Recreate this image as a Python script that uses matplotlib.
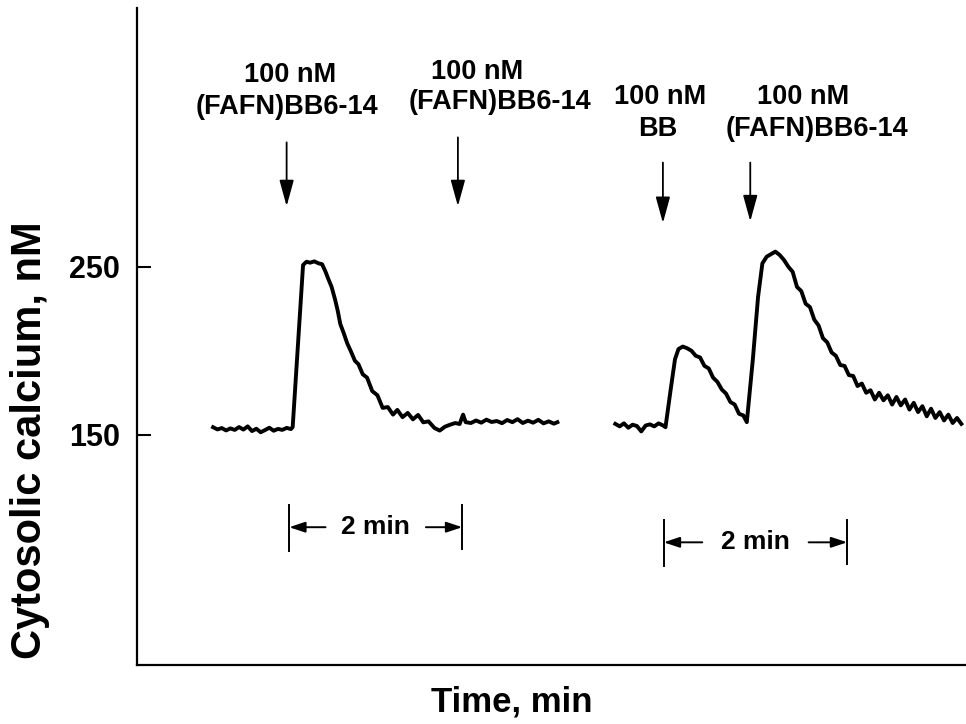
import matplotlib.pyplot as plt

plt.rcParams['font.family'] = ['Liberation Sans', 'DejaVu Sans']
plt.rcParams['font.weight'] = 'bold'

# trace 1: (FAFN)BB6-14 given twice (time in min, Ca in nM)
t1 = [0.88, 0.93, 0.98, 1.03, 1.08, 1.13, 1.18, 1.23, 1.28, 1.33, 1.38, 1.43,
      1.48, 1.53, 1.58, 1.63, 1.68, 1.73, 1.78, 1.80, 1.92, 1.96, 2.00, 2.05,
      2.10, 2.14, 2.18, 2.21, 2.25, 2.29, 2.32, 2.35, 2.39, 2.43, 2.47, 2.52,
      2.56, 2.61, 2.66, 2.72, 2.78, 2.84, 2.90, 2.96, 3.01, 3.07, 3.13, 3.19,
      3.25, 3.31, 3.37, 3.44, 3.50, 3.56, 3.62, 3.68, 3.73, 3.77, 3.80, 3.86,
      3.92, 3.98, 4.04, 4.10, 4.16, 4.22, 4.28, 4.34, 4.40, 4.46, 4.52, 4.58,
      4.64, 4.70, 4.76, 4.82, 4.86]
ca1 = [154.5, 153.2, 154.0, 152.6, 153.8, 152.9, 154.6, 153.1, 155.0, 152.2, 153.6, 151.5,
       152.8, 154.2, 152.4, 153.5, 152.9, 154.1, 153.4, 154.6, 251.0, 253.0, 252.4, 253.2,
       252.0, 251.5, 247.0, 243.0, 238.0, 230.5, 224.0, 216.0, 210.5, 204.5, 200.0, 194.0,
       192.0, 186.0, 184.0, 176.0, 173.5, 166.0, 166.5, 162.0, 164.8, 160.5, 163.0, 159.2,
       161.8, 157.4, 158.0, 154.0, 152.5, 154.8, 156.0, 157.0, 156.4, 162.0, 157.5, 157.0,
       158.5, 157.2, 159.0, 157.6, 158.2, 156.9, 158.8, 157.5, 159.3, 157.0, 158.4, 157.2,
       158.9, 156.8, 158.0, 156.6, 157.5]

# trace 2: BB then (FAFN)BB6-14
t2 = [5.53, 5.58, 5.63, 5.68, 5.73, 5.78, 5.83, 5.88, 5.93, 5.98, 6.03, 6.08,
      6.11, 6.17, 6.22, 6.26, 6.31, 6.36, 6.41, 6.46, 6.51, 6.56, 6.61, 6.66,
      6.71, 6.76, 6.81, 6.86, 6.91, 6.96, 7.01, 7.05, 7.12, 7.18, 7.23, 7.28,
      7.33, 7.38, 7.43, 7.48, 7.53, 7.58, 7.63, 7.68, 7.73, 7.78, 7.83, 7.88,
      7.93, 7.98, 8.03, 8.08, 8.13, 8.18, 8.23, 8.28, 8.33, 8.38, 8.43, 8.48,
      8.53, 8.58, 8.63, 8.68, 8.73, 8.78, 8.83, 8.88, 8.93, 8.98, 9.03, 9.08,
      9.13, 9.18, 9.23, 9.28, 9.33, 9.38, 9.43, 9.48, 9.53]
ca2 = [156.5, 155.0, 156.8, 154.2, 156.0, 155.2, 152.0, 155.5, 156.2, 155.0, 156.8, 155.6,
       154.5, 177.0, 195.0, 201.0, 202.5, 201.5, 200.0, 197.0, 196.0, 191.0, 189.5, 184.0,
       181.5, 177.0, 174.5, 169.5, 168.0, 162.5, 161.5, 157.5, 195.0, 232.0, 252.0, 256.0,
       257.5, 259.0, 257.0, 254.0, 250.0, 247.0, 238.0, 235.5, 228.0, 226.0, 218.5, 215.0,
       207.5, 205.0, 199.0, 197.0, 191.5, 191.0, 185.5, 185.0, 179.0, 180.5, 175.0, 176.5,
       171.0, 175.0, 170.5, 173.5, 168.0, 172.5, 167.5, 171.0, 165.0, 169.0, 163.5, 167.0,
       161.0, 165.5, 160.0, 163.5, 158.5, 162.0, 157.0, 160.0, 156.5]

# stimulus arrows
stim_t = [1.73, 3.71, 6.08, 7.09]
stim_top = [324, 327, 312, 312]
stim_tip = [286, 286, 276, 277]
label_line1 = ['100 nM', '100 nM', '100 nM', '100 nM']
label_line2 = ['(FAFN)BB6-14', '(FAFN)BB6-14', 'BB', '(FAFN)BB6-14']
line1_xy = [(1.77, 364), (3.93, 366), (6.05, 351), (7.70, 351)]
line2_xy = [(1.73, 345), (4.20, 348), (6.02, 332), (7.86, 332)]

# 2 min scale bars
bar_start = [1.76, 6.09]
bar_len = [2.0, 2.12]
bar_y = [95, 86]

fig = plt.figure(figsize=(9.66, 7.24), dpi=100)
ax = fig.add_axes([0.1418, 0.0815, 0.8582, 0.9075])

ax.plot(t1, ca1, color='black', lw=2.8, solid_joinstyle='round')
ax.plot(t2, ca2, color='black', lw=2.8, solid_joinstyle='round')

for x, y0, y1 in zip(stim_t, stim_top, stim_tip):
    ax.annotate('', xy=(x, y1), xytext=(x, y0),
                arrowprops=dict(arrowstyle='-|>,head_length=0.8,head_width=0.22',
                                mutation_scale=20, lw=1.3, color='black',
                                shrinkA=0, shrinkB=0))
for s, (x, y) in zip(label_line1, line1_xy):
    ax.text(x, y, s, ha='center', va='center', fontsize=19.5, fontweight='bold')
for s, (x, y) in zip(label_line2, line2_xy):
    ax.text(x, y, s, ha='center', va='center', fontsize=19.5, fontweight='bold')

for x0, w, y in zip(bar_start, bar_len, bar_y):
    x1 = x0 + w
    xm = x0 + w / 2
    ax.plot([x0, x0], [y - 14, y + 13], color='black', lw=1.4)
    ax.plot([x1, x1], [y - 13, y + 13], color='black', lw=1.4)
    ax.text(xm, y, '2 min', ha='center', va='center', fontsize=19, fontweight='bold')
    head = dict(arrowstyle='-|>,head_length=0.6,head_width=0.2', mutation_scale=16,
                lw=1.4, color='black', shrinkA=0, shrinkB=0)
    ax.annotate('', xy=(x0, y), xytext=(xm - 0.29 * w, y), arrowprops=head)
    ax.annotate('', xy=(x1, y), xytext=(xm + 0.29 * w, y), arrowprops=head)

ax.set_xlim(0, 9.584)
ax.set_ylim(13, 404)
ax.set_yticks([150, 250])
ax.set_xticks([])
ax.tick_params(axis='y', direction='in', length=10, width=1.5, pad=12, labelsize=22)
for lab in ax.get_yticklabels():
    lab.set_fontweight('bold')

for side in ['top', 'right']:
    ax.spines[side].set_visible(False)
for side in ['left', 'bottom']:
    ax.spines[side].set_linewidth(1.6)

ax.set_ylabel('Cytosolic calcium, nM', fontsize=30, fontweight='bold')
ax.yaxis.label.set_verticalalignment('center')
ax.yaxis.set_label_coords(-0.129, 0.342)
ax.set_xlabel('Time, min', fontsize=25, fontweight='bold')
ax.xaxis.label.set_verticalalignment('center')
ax.xaxis.set_label_coords(0.452, -0.056)

fig.savefig('out.png', dpi=100)
